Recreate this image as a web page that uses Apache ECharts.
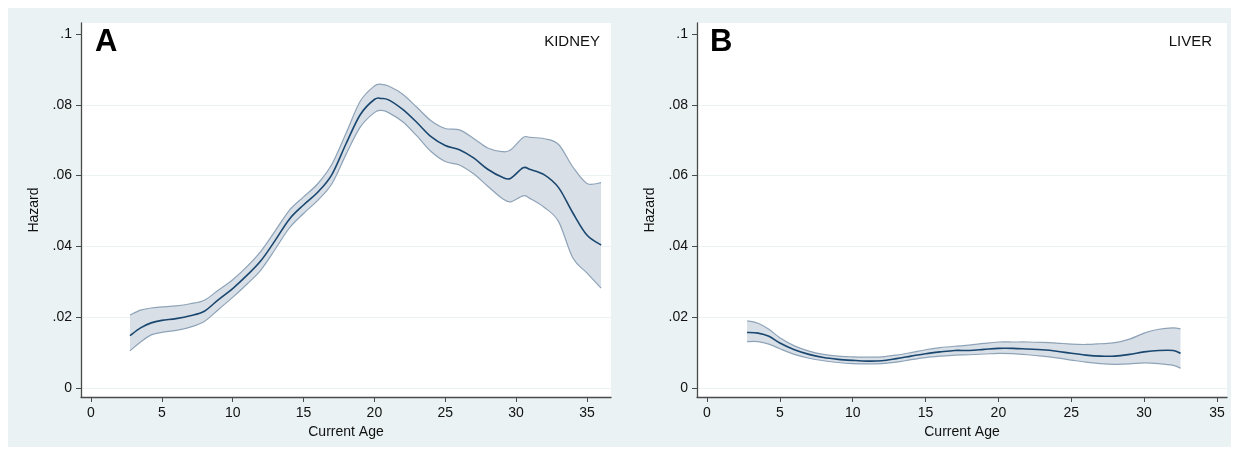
<!DOCTYPE html>
<html>
<head>
<meta charset="utf-8">
<script src="https://cdn.jsdelivr.net/npm/echarts@6/dist/echarts.min.js"></script>
<style>
html,body{margin:0;padding:0;background:#ffffff;}
#chart{width:1239px;height:455px;}
</style>
</head>
<body>
<div id="chart"></div>
<script>
// ---- data ----
const kidneyAge    = [2.75, 3.5, 4.25, 5, 6, 7, 8, 9, 10, 11, 12, 13, 14, 15, 16, 17, 18, 19, 20, 20.5, 21, 22, 23, 24, 25, 26, 27, 28, 29, 29.6, 30.5, 31, 32, 33, 34, 35, 36];
const kidneyHazard = [0.0148, 0.0170, 0.0184, 0.0191, 0.0196, 0.0204, 0.0217, 0.0250, 0.0281, 0.0318, 0.0360, 0.0417, 0.0477, 0.0517, 0.0553, 0.0603, 0.0690, 0.0772, 0.0815, 0.0818, 0.0814, 0.0787, 0.0750, 0.0710, 0.0685, 0.0673, 0.0650, 0.0618, 0.0596, 0.0592, 0.0622, 0.0617, 0.0602, 0.0566, 0.0495, 0.0432, 0.0404];
const kidneyUpper  = [0.0206, 0.0220, 0.0226, 0.0229, 0.0232, 0.0238, 0.0248, 0.0277, 0.0306, 0.0343, 0.0387, 0.0444, 0.0502, 0.0540, 0.0577, 0.0632, 0.0720, 0.0810, 0.0853, 0.0858, 0.0853, 0.0830, 0.0793, 0.0755, 0.0733, 0.0729, 0.0705, 0.0678, 0.0668, 0.0672, 0.0708, 0.0708, 0.0704, 0.0688, 0.0625, 0.0578, 0.0580];
const kidneyLower  = [0.0105, 0.0130, 0.0150, 0.0157, 0.0163, 0.0172, 0.0188, 0.0222, 0.0256, 0.0293, 0.0334, 0.0392, 0.0452, 0.0493, 0.0530, 0.0577, 0.0660, 0.0737, 0.0778, 0.0784, 0.0778, 0.0752, 0.0712, 0.0668, 0.0640, 0.0630, 0.0605, 0.0570, 0.0536, 0.0526, 0.0543, 0.0535, 0.0510, 0.0470, 0.0368, 0.0325, 0.0282];

const liverAge    = [2.75, 3.5, 4.25, 5, 6, 7, 8, 9, 10, 11, 12, 13, 14, 15, 16, 17, 18, 19, 20, 21, 22, 23, 24, 25, 26, 27, 28, 29, 30, 31, 32, 32.5];
const liverHazard = [0.0157, 0.0155, 0.0146, 0.0127, 0.0108, 0.0095, 0.0086, 0.0081, 0.0078, 0.0076, 0.0077, 0.0083, 0.0090, 0.0097, 0.0102, 0.0106, 0.0106, 0.0109, 0.0112, 0.0112, 0.0110, 0.0108, 0.0104, 0.0098, 0.0093, 0.0090, 0.0090, 0.0095, 0.0102, 0.0106, 0.0106, 0.0098];
const liverUpper  = [0.0190, 0.0183, 0.0166, 0.0142, 0.0119, 0.0104, 0.0095, 0.0090, 0.0088, 0.0087, 0.0088, 0.0093, 0.0100, 0.0108, 0.0114, 0.0118, 0.0121, 0.0126, 0.0130, 0.0130, 0.0130, 0.0129, 0.0127, 0.0124, 0.0123, 0.0125, 0.0128, 0.0138, 0.0155, 0.0166, 0.0170, 0.0167];
const liverLower  = [0.0131, 0.0131, 0.0124, 0.0111, 0.0095, 0.0084, 0.0077, 0.0072, 0.0069, 0.0068, 0.0069, 0.0073, 0.0080, 0.0086, 0.0090, 0.0093, 0.0094, 0.0096, 0.0098, 0.0097, 0.0094, 0.0090, 0.0085, 0.0079, 0.0073, 0.0069, 0.0067, 0.0068, 0.0071, 0.0069, 0.0064, 0.0056];

const xTicks = [0, 5, 10, 15, 20, 25, 30, 35];
const yTicks = [0, 0.02, 0.04, 0.06, 0.08, 0.1];
const panelLetters = ['A', 'B'];
const panelNames = ['KIDNEY', 'LIVER'];
const xTitle = 'Current Age';
const yTitle = 'Hazard';

// ---- style ----
const FONT = '"Liberation Sans", Arial, Helvetica, sans-serif';
const BG = '#eaf2f3';
const NAVY = '#1a476f';
const BAND = '#d9dfe7';
const BAND_EDGE = '#8ea3b8';
const AXIS = '#4a4a4a';

const panels = [
  {age: kidneyAge, mid: kidneyHazard, up: kidneyUpper, lo: kidneyLower},
  {age: liverAge, mid: liverHazard, up: liverUpper, lo: liverLower}
];

function yFmt(v) {
  if (Math.abs(v) < 1e-9) return '0';
  return String(+v.toFixed(2)).replace(/^0/, '');
}

function xAxisCfg(idx, min, max) {
  return {
    type: 'value', gridIndex: idx, min: min, max: max,
    name: xTitle, nameLocation: 'middle', nameGap: 26,
    nameTextStyle: {fontFamily: FONT, fontSize: 14, color: '#111'},
    axisLine: {show: true, onZero: false, lineStyle: {color: AXIS, width: 1.3}},
    axisTick: {show: true, length: 5, customValues: xTicks, lineStyle: {color: AXIS, width: 1}},
    axisLabel: {customValues: xTicks, margin: 9, fontFamily: FONT, fontSize: 14, color: '#111'},
    splitLine: {show: false}
  };
}
function yAxisCfg(idx) {
  return {
    type: 'value', gridIndex: idx, min: -0.00254, max: 0.10311,
    name: yTitle, nameLocation: 'middle', nameGap: 40,
    nameTextStyle: {fontFamily: FONT, fontSize: 14, color: '#111'},
    axisLine: {show: true, onZero: false, lineStyle: {color: AXIS, width: 1.3}},
    axisTick: {show: true, length: 5, customValues: yTicks, lineStyle: {color: AXIS, width: 1}},
    axisLabel: {customValues: yTicks, margin: 9, fontFamily: FONT, fontSize: 14, color: '#111', formatter: yFmt},
    splitLine: {show: true, lineStyle: {color: [BG, BG, BG, BG, BG, 'rgba(0,0,0,0)'], width: 1.2}}
  };
}

function pairs(xs, ys) { return xs.map((x, i) => [x, ys[i]]); }

// Catmull-Rom spline through pixel points -> SVG path segments
function splinePath(pts, start) {
  let d = start + pts[0][0].toFixed(2) + ' ' + pts[0][1].toFixed(2);
  for (let i = 0; i < pts.length - 1; i++) {
    const p0 = pts[i - 1] || pts[i], p1 = pts[i], p2 = pts[i + 1], p3 = pts[i + 2] || pts[i + 1];
    const c1x = p1[0] + (p2[0] - p0[0]) / 6, c1y = p1[1] + (p2[1] - p0[1]) / 6;
    const c2x = p2[0] - (p3[0] - p1[0]) / 6, c2y = p2[1] - (p3[1] - p1[1]) / 6;
    d += ' C' + c1x.toFixed(2) + ' ' + c1y.toFixed(2) + ' ' + c2x.toFixed(2) + ' ' + c2y.toFixed(2) + ' ' + p2[0].toFixed(2) + ' ' + p2[1].toFixed(2);
  }
  return d;
}

function bandRender(panelIdx) {
  return function (params, api) {
    if (params.dataIndex !== 0) return null;
    const p = panels[panelIdx];
    const upPts = p.age.map((a, i) => api.coord([a, p.up[i]]));
    const loPts = p.age.map((a, i) => api.coord([a, p.lo[i]]));
    const loRev = loPts.slice().reverse();
    const fillD = splinePath(upPts, 'M') + ' ' + splinePath(loRev, 'L') + ' Z';
    return {
      type: 'group',
      children: [
        {type: 'path', shape: {pathData: fillD}, style: {fill: BAND, stroke: null}},
        {type: 'path', shape: {pathData: splinePath(upPts, 'M')}, style: {fill: null, stroke: BAND_EDGE, lineWidth: 1.2}},
        {type: 'path', shape: {pathData: splinePath(loPts, 'M')}, style: {fill: null, stroke: BAND_EDGE, lineWidth: 1.2}}
      ]
    };
  };
}
function midRender(panelIdx) {
  return function (params, api) {
    if (params.dataIndex !== 0) return null;
    const p = panels[panelIdx];
    const pts = p.age.map((a, i) => api.coord([a, p.mid[i]]));
    return {type: 'path', shape: {pathData: splinePath(pts, 'M')}, style: {fill: null, stroke: NAVY, lineWidth: 1.6}};
  };
}

function panelSeries(idx) {
  const p = panels[idx];
  return [
    {type: 'custom', xAxisIndex: idx, yAxisIndex: idx, renderItem: bandRender(idx), silent: true, z: 1,
     data: p.age.map((a, i) => [a, p.lo[i], p.up[i]]), encode: {x: 0, y: [1, 2]}},
    {type: 'custom', xAxisIndex: idx, yAxisIndex: idx, renderItem: midRender(idx), silent: true, z: 2,
     data: pairs(p.age, p.mid), encode: {x: 0, y: 1}}
  ];
}

const chart = echarts.init(document.getElementById('chart'), null, {renderer: 'canvas'});
chart.setOption({
  animation: false,
  backgroundColor: '#ffffff',
  graphic: [
    {type: 'rect', shape: {x: 8, y: 8, width: 1223, height: 439}, style: {fill: BG}, z: -10, silent: true}
  ],
  title: [
    {text: panelLetters[0], left: 90, top: 22, textStyle: {fontFamily: FONT, fontSize: 31, fontWeight: 'bold', color: '#000'}},
    {text: panelLetters[1], left: 705, top: 22, textStyle: {fontFamily: FONT, fontSize: 31, fontWeight: 'bold', color: '#000'}},
    {text: panelNames[0], right: 1239 - 605, top: 29, textStyle: {fontFamily: FONT, fontSize: 15, fontWeight: 'normal', color: '#111'}},
    {text: panelNames[1], right: 1239 - 1217, top: 29, textStyle: {fontFamily: FONT, fontSize: 15, fontWeight: 'normal', color: '#111'}}
  ],
  grid: [
    {left: 81, top: 23, width: 530, height: 374, show: true, backgroundColor: '#ffffff', borderWidth: 0, containLabel: false},
    {left: 697, top: 23, width: 530, height: 374, show: true, backgroundColor: '#ffffff', borderWidth: 0, containLabel: false}
  ],
  xAxis: [xAxisCfg(0, -0.706, 36.70), xAxisCfg(1, -0.686, 35.69)],
  yAxis: [yAxisCfg(0), yAxisCfg(1)],
  series: [].concat(panelSeries(0), panelSeries(1))
});
</script>
</body>
</html>
